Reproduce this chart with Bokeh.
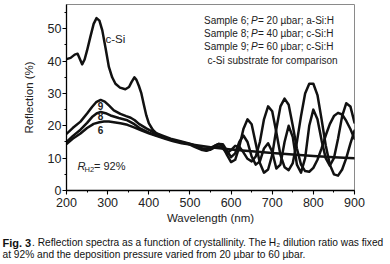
from bokeh.plotting import figure
from bokeh.layouts import column
from bokeh.models import Label, SingleIntervalTicker, Range1d
from bokeh.embed import file_html
from bokeh.resources import INLINE

# ---------------- data ----------------
csi_wl = [200, 210, 220, 227, 233, 238, 244, 250, 258, 266, 273, 280, 287, 295, 303, 311, 319, 330,
          343, 352, 358, 365, 370, 376, 382, 388, 394, 400, 410, 420, 435, 453, 475, 500,
          550, 600, 650, 700, 750, 800, 850, 900]
csi_r = [40.6, 41.0, 42.0, 42.3, 40.5, 39.0, 40.5, 43.3, 47.5, 51.5, 53.3, 52.5, 49.5, 44.0, 38.2, 35.0, 33.0, 31.8,
         31.3, 32.0, 33.5, 35.0, 34.2, 32.3, 30.0, 26.5, 23.2, 20.8, 18.7, 17.5, 16.5, 15.7, 15.1, 14.3,
         13.4, 12.7, 12.1, 11.6, 11.1, 10.7, 10.3, 10.0]

s9_wl = [200, 215, 234, 250, 262, 272, 283, 293, 303, 315, 331, 345, 356, 366, 376, 394, 412, 432, 453, 477,
         500, 510, 520, 530, 540, 550, 560, 570, 580, 590, 600, 610, 620, 630, 640, 650, 660, 670, 680, 690,
         700, 710, 720, 730, 740, 750, 760, 770, 780, 790, 800, 810, 820, 830, 840, 850, 860, 870, 880, 890, 900]
s9_r = [17.5, 19.3, 21.3, 23.8, 25.8, 27.3, 28.0, 27.5, 26.3, 24.8, 23.7, 23.0, 22.5, 21.7, 20.6, 19.2, 18.0, 17.0, 16.0, 15.2,
        14.5, 14.0, 13.4, 12.8, 12.4, 12.6, 13.3, 13.6, 13.0, 11.5, 12.5, 13.8, 13.5, 11.8, 9.8, 9.0, 10.5, 15.0, 22.0, 26.0,
        24.5, 18.0, 11.0, 7.2, 6.3, 8.5, 15.0, 23.0, 30.0, 33.0, 33.0, 29.5, 22.0, 14.0, 8.0, 5.0, 4.6, 6.5, 10.0, 14.5, 18.5]

s8_wl = [200, 215, 234, 250, 262, 273, 283, 295, 307, 327, 348, 365, 380, 400, 420, 440, 460, 480,
         500, 510, 520, 530, 540, 550, 560, 570, 580, 590, 600, 610, 620, 630, 640, 650, 660, 670, 680, 690,
         700, 710, 720, 730, 740, 750, 760, 770, 780, 790, 800, 810, 820, 830, 840, 850, 860, 870, 880, 890, 900]
s8_r = [15.0, 16.8, 18.8, 20.9, 22.7, 23.8, 24.3, 23.9, 23.2, 22.4, 21.7, 20.5, 19.1, 17.9, 17.0, 16.2, 15.5, 14.8,
        14.3, 13.9, 13.5, 13.1, 12.9, 13.2, 13.8, 14.4, 13.6, 11.0, 8.8, 9.5, 13.5, 19.0, 22.0, 20.5, 14.5, 8.5, 5.5, 6.5,
        11.0, 19.0, 26.0, 28.4, 26.5, 20.0, 13.0, 8.0, 6.0, 5.8, 7.0, 9.5, 13.0, 17.0, 20.5, 23.0, 24.0, 23.5, 21.5, 19.0, 16.0]

s6_wl = [200, 215, 234, 250, 266, 280, 291, 303, 315, 331, 348, 364, 380, 400, 420, 440, 460, 480,
         500, 510, 520, 530, 540, 550, 560, 570, 580, 590, 600, 610, 620, 630, 640, 650, 660, 670, 680, 690,
         700, 710, 720, 730, 740, 750, 760, 770, 780, 790, 800, 810, 820, 830, 840, 850, 860, 870, 880, 890, 900]
s6_r = [14.4, 16.0, 17.6, 19.3, 20.6, 21.1, 21.3, 21.3, 21.1, 20.8, 20.3, 19.5, 18.7, 17.7, 16.8, 16.0, 15.2, 14.6,
        14.2, 13.6, 13.0, 12.5, 12.3, 12.8, 13.8, 14.4, 14.3, 12.3, 10.3, 11.5, 15.0, 17.0, 15.0, 10.5, 8.0, 9.0, 13.0, 14.6,
        12.0, 6.8, 8.0, 15.0, 20.0, 16.5, 8.0, 5.5, 10.0, 20.0, 25.0, 22.0, 15.5, 10.0, 7.7, 10.0, 16.0, 23.0, 27.0, 26.0, 21.0]

legend_samples = ["Sample 6;", "Sample 8;", "Sample 9;"]
legend_rest = ["= 20 \u00b5bar; a-Si:H", "= 40 \u00b5bar; c-Si:H", "= 60 \u00b5bar; c-Si:H"]
legend_last = "c-Si substrate for comparison"
curve_tags = ["9", "8", "6"]
caption_bold = "Fig. 3"
caption_1 = ". Reflection spectra as a function of crystallinity. The H\u2082 dilution ratio was fixed"
caption_2 = "at 92% and the deposition pressure varied from 20 \u00b5bar to 60 \u00b5bar."

FONT = "Liberation Sans"

# ---------------- main figure ----------------
p = figure(width=390, height=230, output_backend="svg", toolbar_location=None,
           x_range=Range1d(200, 900), y_range=Range1d(0, 57.5),
           min_border_left=66, min_border_right=36, min_border_top=4, min_border_bottom=40)
p.xgrid.visible = False
p.ygrid.visible = False
p.outline_line_color = "#8a8a8a"
p.outline_line_width = 1
p.background_fill_color = "white"
p.border_fill_color = "white"

p.xaxis.ticker = SingleIntervalTicker(interval=100, num_minor_ticks=2)
p.yaxis.ticker = SingleIntervalTicker(interval=10, num_minor_ticks=2)
for ax in (p.xaxis[0], p.yaxis[0]):
    ax.axis_line_color = "black"
    ax.axis_line_width = 1.3
    ax.major_tick_line_color = "black"
    ax.minor_tick_line_color = "black"
    ax.major_tick_line_width = 1.1
    ax.minor_tick_line_width = 1
    ax.major_tick_in = 0
    ax.major_tick_out = 4
    ax.minor_tick_in = 0
    ax.minor_tick_out = 2
    ax.major_label_text_font = FONT
    ax.major_label_text_font_size = "12.5px"
    ax.major_label_text_color = "#222"
    ax.axis_label_text_font = FONT
    ax.axis_label_text_font_size = "11.5px"
    ax.axis_label_text_font_style = "normal"
    ax.axis_label_text_color = "#222"
p.yaxis.major_label_standoff = 1
p.xaxis.major_label_standoff = 3
p.xaxis.axis_label = "Wavelength (nm)"
p.yaxis.axis_label = "Reflection (%)"
p.xaxis.axis_label_standoff = 2
p.yaxis.axis_label_standoff = 10

lw = 2.5
col = "#111111"
for wl, r in ((csi_wl, csi_r), (s9_wl, s9_r), (s8_wl, s8_r), (s6_wl, s6_r)):
    p.line(wl, r, line_width=lw, line_color=col, line_join="round", line_cap="round")


def lab(fig, x, y, text, size, style="normal", align="left", baseline="middle", color="#222"):
    fig.add_layout(Label(x=x, y=y, text=text, text_font=FONT, text_font_size=size,
                         text_font_style=style, text_align=align, text_baseline=baseline,
                         text_color=color))


# legend box text
rows = [52.7, 48.5, 44.4]
for yy, s, rest in zip(rows, legend_samples, legend_rest):
    lab(p, 643.6, yy, s, "10px", align="right")
    lab(p, 648.4, yy, "P", "10px", style="italic")
    lab(p, 665.4, yy, rest, "10px")
lab(p, 700.7, 40.2, legend_last, "10px", align="center")

# curve labels
lab(p, 294.8, 46.7, "c-Si", "11.5px")
for yy, t in zip([26.0, 22.9, 18.8], curve_tags):
    lab(p, 282.6, yy, t, "10px", style="bold", align="center")

# R_H2 = 92%
lab(p, 226.7, 7.6, "R", "11px", style="italic")
lab(p, 243.7, 6.6, "H2", "7.5px")
lab(p, 266.8, 7.6, "= 92%", "11px")

# ---------------- caption figure ----------------
c = figure(width=390, height=34, output_backend="svg", toolbar_location=None,
           x_range=Range1d(0, 390), y_range=Range1d(34, 0),
           x_axis_type=None, y_axis_type=None,
           min_border_left=0, min_border_right=0, min_border_top=0, min_border_bottom=0)
c.frame_align = False
c.xgrid.visible = False
c.ygrid.visible = False
c.outline_line_color = None
c.background_fill_color = "white"
c.border_fill_color = "white"

lab(c, 2, 12, caption_bold, "11px", style="bold", color="#111")
lab(c, 31.5, 12, caption_1, "10.2px", color="#111")
lab(c, 2, 24, caption_2, "10.2px", color="#111")

layout = column(p, c, spacing=0)
open("out.html", "w").write(file_html(layout, INLINE))
